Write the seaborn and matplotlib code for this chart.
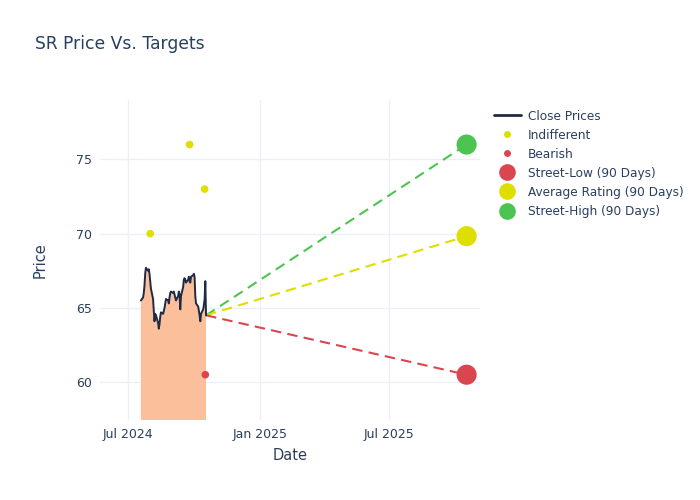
import matplotlib
matplotlib.use("Agg")
import matplotlib.pyplot as plt
import matplotlib.dates as mdates
from matplotlib.lines import Line2D
import seaborn as sns
import pandas as pd
import numpy as np

# ---- data ----
close_start = "2024-07-19"
close_prices = [65.5, 65.7, 66.0, 66.5, 67.3, 67.7, 67.5, 67.6, 67.3, 66.8,
                66.3, 65.6, 64.8, 64.1, 64.6, 64.5, 64.0, 63.6, 63.9, 64.4,
                64.7, 64.6, 64.8, 65.0, 65.3, 65.6, 65.5, 65.3, 65.7, 66.0,
                66.1, 66.0, 66.1, 65.9, 65.7, 65.5, 65.8, 66.1, 65.9, 64.9,
                65.8, 66.4, 66.9, 67.0, 66.9, 66.7, 66.9, 67.1, 66.8, 66.7,
                67.1, 67.2, 67.3, 67.1, 65.8, 65.3, 65.1, 64.8, 64.5, 64.1,
                64.6, 64.9, 65.2, 65.6, 66.8, 64.5]
indiff_dates = ["2024-08-01", "2024-09-25", "2024-10-16"]
indiff_values = [70.0, 76.0, 73.0]
bear_dates = ["2024-10-17"]
bear_values = [60.5]
target_date = "2025-10-17"
street_low = 60.5
avg_rating = 69.83
street_high = 76.0

# ---- style ----
TEXT = "#2a3f5f"
GRID = "#EBF0F8"
LINE = "#1f2a44"
FILL = "#FCBF9B"
RED = "#D9464F"
YEL = "#DEDE00"
GRN = "#4DC452"

sns.set_theme(style="white")
plt.rcParams["font.family"] = ["DejaVu Sans"]

dates = pd.bdate_range(start=close_start, periods=len(close_prices))
df = pd.DataFrame({"Date": dates, "Close": close_prices})
last_date = dates[-1]
last_close = close_prices[-1]
tdate = pd.Timestamp(target_date)

fig = plt.figure(figsize=(7, 5), dpi=100)
ax = fig.add_axes([0.143, 0.16, 0.543, 0.64])

ax.fill_between(df["Date"], 0, df["Close"], color=FILL, linewidth=0, zorder=1)
sns.lineplot(data=df, x="Date", y="Close", ax=ax, color=LINE, linewidth=1.4, zorder=3)

for val, col in [(street_high, GRN), (avg_rating, YEL), (street_low, RED)]:
    seg = pd.DataFrame({"Date": [last_date, tdate], "v": [last_close, val]})
    sns.lineplot(data=seg, x="Date", y="v", ax=ax, color=col, linewidth=1.5,
                 linestyle=(0, (5, 3)), zorder=2)

ind = pd.DataFrame({"Date": pd.to_datetime(indiff_dates), "v": indiff_values})
sns.scatterplot(data=ind, x="Date", y="v", ax=ax, color=YEL, s=30, edgecolor="none", zorder=4)
br = pd.DataFrame({"Date": pd.to_datetime(bear_dates), "v": bear_values})
sns.scatterplot(data=br, x="Date", y="v", ax=ax, color=RED, s=30, edgecolor="none", zorder=4)

tg = pd.DataFrame({"Date": [tdate] * 3, "v": [street_low, avg_rating, street_high],
                   "c": [RED, YEL, GRN]})
for _, r in tg.iterrows():
    sns.scatterplot(x=[r["Date"]], y=[r["v"]], ax=ax, color=r["c"], s=210,
                    edgecolor="none", zorder=5)

ax.set_xlim(pd.Timestamp("2024-05-23"), pd.Timestamp("2025-11-05"))
ax.set_ylim(57.45, 79.0)
ax.set_yticks([60, 65, 70, 75])
ax.set_xticks(pd.to_datetime(["2024-07-01", "2025-01-01", "2025-07-01"]))
ax.xaxis.set_major_formatter(mdates.DateFormatter("%b %Y"))
ax.grid(True, color=GRID, linewidth=1)
ax.set_axisbelow(True)
for s in ax.spines.values():
    s.set_visible(False)
ax.tick_params(axis="both", length=0, labelsize=9, colors=TEXT, pad=6)
ax.set_xlabel("Date", fontsize=10.5, color=TEXT, labelpad=5)
ax.set_ylabel("Price", fontsize=10.5, color=TEXT, labelpad=20)

fig.text(0.05, 0.912, "SR Price Vs. Targets", fontsize=12.3, color=TEXT, va="center")

handles = [
    Line2D([0], [0], color=LINE, linewidth=2),
    Line2D([0], [0], marker="o", color="none", markerfacecolor=YEL, markeredgecolor="none", markersize=5),
    Line2D([0], [0], marker="o", color="none", markerfacecolor=RED, markeredgecolor="none", markersize=5),
    Line2D([0], [0], marker="o", color="none", markerfacecolor=RED, markeredgecolor="none", markersize=12),
    Line2D([0], [0], marker="o", color="none", markerfacecolor=YEL, markeredgecolor="none", markersize=12),
    Line2D([0], [0], marker="o", color="none", markerfacecolor=GRN, markeredgecolor="none", markersize=12),
]
labels = ["Close Prices", "Indifferent", "Bearish", "Street-Low (90 Days)",
          "Average Rating (90 Days)", "Street-High (90 Days)"]
leg = fig.legend(handles, labels, loc="upper left", bbox_to_anchor=(0.697, 0.793),
                 frameon=False, fontsize=8.7, labelcolor=TEXT, handlelength=2.2,
                 handletextpad=0.6, labelspacing=0.5, borderpad=0)

fig.savefig("out.png", dpi=100)
